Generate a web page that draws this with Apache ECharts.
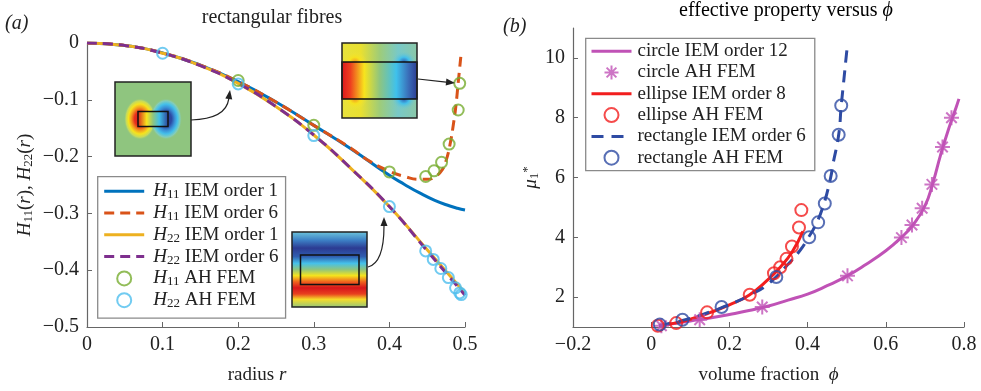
<!DOCTYPE html>
<html>
<head>
<meta charset="utf-8">
<script src="https://cdn.jsdelivr.net/npm/echarts@6/dist/echarts.min.js"></script>
<style>
  html, body { margin: 0; padding: 0; background: #fff; }
  #main { width: 981px; height: 391px; }
</style>
</head>
<body>
<div id="main"></div>
<script>
// ---- panel (a): rectangular fibres ----
var rH11o1 = [0, 0.05, 0.1, 0.15, 0.2, 0.25, 0.3, 0.35, 0.4, 0.42, 0.44, 0.46, 0.48, 0.49, 0.5];
var valH11o1 = [0, -0.0045, -0.0175, -0.039, -0.068, -0.104, -0.145, -0.187, -0.233, -0.249, -0.264, -0.277, -0.287, -0.291, -0.294];

var rH11o6 = [0, 0.05, 0.1, 0.15, 0.2, 0.25, 0.3, 0.35, 0.37, 0.4, 0.42, 0.44, 0.45, 0.46, 0.47, 0.475, 0.48, 0.485, 0.488, 0.491, 0.495];
var valH11o6 = [0, -0.0045, -0.0175, -0.039, -0.068, -0.104, -0.145, -0.186, -0.205, -0.226, -0.235, -0.24, -0.24, -0.236, -0.223, -0.207, -0.18, -0.14, -0.11, -0.07, -0.017];

var rH22 = [0, 0.05, 0.1, 0.15, 0.2, 0.25, 0.3, 0.35, 0.4, 0.45, 0.5];
var valH22o1 = [0, -0.0045, -0.018, -0.04, -0.071, -0.112, -0.162, -0.222, -0.288, -0.364, -0.44];
var valH22o6 = [0, -0.0045, -0.018, -0.04, -0.071, -0.112, -0.162, -0.222, -0.288, -0.366, -0.444];

var rFemH11 = [0.2, 0.3, 0.4, 0.448, 0.459, 0.469, 0.479, 0.491, 0.493];
var valFemH11 = [-0.066, -0.145, -0.227, -0.235, -0.225, -0.21, -0.178, -0.118, -0.071];
var rFemH22 = [0.1, 0.2, 0.3, 0.4, 0.448, 0.458, 0.468, 0.478, 0.4875, 0.493, 0.495];
var valFemH22 = [-0.018, -0.072, -0.163, -0.288, -0.366, -0.381, -0.397, -0.413, -0.431, -0.44, -0.443];

var ticksA_x = [0, 0.1, 0.2, 0.3, 0.4, 0.5];

// ---- panel (b): effective property versus phi ----
var phiCircle = [0.02, 0.05, 0.1, 0.15, 0.2, 0.25, 0.3, 0.35, 0.4, 0.45, 0.5, 0.55, 0.6, 0.64, 0.67, 0.7, 0.72, 0.74, 0.76, 0.78, 0.787];
var muCircle = [1.04, 1.1, 1.2, 1.3, 1.42, 1.55, 1.7, 1.9, 2.1, 2.38, 2.7, 3.1, 3.55, 4.0, 4.42, 5.05, 5.8, 6.75, 7.6, 8.35, 8.63];
var phiCircleFem = [0.026, 0.124, 0.284, 0.502, 0.64, 0.667, 0.693, 0.718, 0.745, 0.768];
var muCircleFem = [1.04, 1.24, 1.67, 2.71, 3.99, 4.41, 4.97, 5.77, 7.02, 8.0];

var phiEllipse = [0.02, 0.06, 0.1, 0.15, 0.2, 0.25, 0.3, 0.33, 0.36, 0.388];
var muEllipse = [1.04, 1.13, 1.26, 1.48, 1.74, 2.06, 2.6, 3.0, 3.5, 4.2];
var phiEllipseFem = [0.017, 0.064, 0.143, 0.252, 0.314, 0.33, 0.346, 0.36, 0.378, 0.384];
var muEllipseFem = [1.04, 1.13, 1.49, 2.08, 2.8, 3.0, 3.28, 3.69, 4.33, 4.91];

var phiRect = [0.02, 0.08, 0.15, 0.2, 0.25, 0.3, 0.35, 0.38, 0.4, 0.42, 0.44, 0.459, 0.465, 0.4795, 0.486, 0.493, 0.5, 0.503];
var muRect = [1.05, 1.22, 1.5, 1.75, 2.05, 2.45, 3.1, 3.55, 3.95, 4.4, 5.05, 6.0, 6.45, 7.43, 8.4, 9.3, 10.2, 10.5];
var phiRectFem = [0.022, 0.08, 0.18, 0.32, 0.404, 0.427, 0.444, 0.459, 0.4795, 0.486];
var muRectFem = [1.08, 1.24, 1.67, 2.67, 4.0, 4.5, 5.13, 6.05, 7.43, 8.41];

var ticksB_y = [2, 4, 6, 8, 10];

var FONT = 'Liberation Serif';
var zip = (xs, ys) => xs.map((x, i) => [x, ys[i]]);
var fmt = v => String(+v.toFixed(2)).replace('-', '\u2212');

var richBase = {
    t: { fontFamily: FONT, fontSize: 18, lineHeight: 20, color: '#222' },
    i: { fontFamily: FONT, fontSize: 18, lineHeight: 20, fontStyle: 'italic', color: '#222' },
    s: { fontFamily: FONT, fontSize: 12, lineHeight: 12, verticalAlign: 'bottom', color: '#222' },
    p: { fontFamily: FONT, fontSize: 13, lineHeight: 12, verticalAlign: 'top', color: '#222' }
};
function rich(size) {
    var r = JSON.parse(JSON.stringify(richBase));
    r.t.fontSize = size; r.i.fontSize = size;
    r.s.fontSize = Math.round(size * 0.68);
    return r;
}

var hollow = c => ({ color: 'rgba(0,0,0,0)', borderColor: c, borderWidth: 2 });
var starPath = 'path://M0,-10L0,10M-10,0L10,0M-7,-7L7,7M-7,7L7,-7';
var noSym = { color: 'rgba(0,0,0,0)', borderWidth: 0, opacity: 0 };

var chart = echarts.init(document.getElementById('main'), null, { renderer: 'canvas' });

function axisCommon() {
    return {
        type: 'value',
        splitLine: { show: false },
        axisLine: { show: true, onZero: false, lineStyle: { color: '#666', width: 1.2 } },
        axisTick: { show: true, inside: true, length: 5, lineStyle: { color: '#666' } },
        axisLabel: { fontFamily: FONT, fontSize: 20, color: '#222', formatter: fmt },
        nameTextStyle: { rich: rich(19) }
    };
}

// insets (field pictures) and arrows
function arrow(x0, y0, cx, cy, x1, y1) {
    var dx = x1 - cx, dy = y1 - cy, l = Math.sqrt(dx * dx + dy * dy);
    dx /= l; dy /= l;
    var bx = x1 - 9 * dx, by = y1 - 9 * dy;
    return [
        { type: 'bezierCurve', shape: { x1: x0, y1: y0, cpx1: cx, cpy1: cy, x2: bx, y2: by },
          style: { stroke: '#222', lineWidth: 1.2, fill: null }, z: 100 },
        { type: 'polygon', shape: { points: [[x1, y1], [bx - 3.5 * dy, by + 3.5 * dx], [bx + 3.5 * dy, by - 3.5 * dx]] },
          style: { fill: '#222' }, z: 100 }
    ];
}
var G = echarts.graphic;
var bgGreen = '#8fc57f';
function lobe(x, y, r, sy, stops) {
    return { type: 'circle', x: x, y: y, scaleY: sy, shape: { cx: 0, cy: 0, r: r },
             style: { fill: new G.RadialGradient(0.5, 0.5, 0.5, stops) }, z: 100 };
}
var redStops = [{ offset: 0, color: '#d2191d' }, { offset: 0.35, color: '#e8301e' }, { offset: 0.55, color: '#f39a1f' },
                { offset: 0.72, color: '#f6e31d' }, { offset: 0.88, color: '#c4da5e' }, { offset: 1, color: 'rgba(143,197,127,0)' }];
var blueStops = [{ offset: 0, color: '#2b3990' }, { offset: 0.35, color: '#2d4aa3' }, { offset: 0.55, color: '#3a8fd6' },
                 { offset: 0.72, color: '#45c0ea' }, { offset: 0.88, color: '#85cdb8' }, { offset: 1, color: 'rgba(143,197,127,0)' }];
var cornerRed = [{ offset: 0, color: '#f19a22' }, { offset: 0.45, color: '#f6e21f' }, { offset: 1, color: 'rgba(235,226,60,0)' }];
var cornerBlue = [{ offset: 0, color: '#2f5fb3' }, { offset: 0.45, color: '#45c0ea' }, { offset: 1, color: 'rgba(120,200,200,0)' }];

var graphics = [
    // inset 1
    { type: 'rect', shape: { x: 115, y: 82, width: 76, height: 74 }, style: { fill: bgGreen }, z: 100 },
    lobe(140, 119, 16, 1.3, redStops),
    lobe(166, 119, 16, 1.3, blueStops),
    { type: 'rect', shape: { x: 138, y: 111.5, width: 30, height: 15 },
      style: { fill: new G.LinearGradient(0, 0, 1, 0, [
          { offset: 0, color: '#d5171c' }, { offset: 0.3, color: '#f7e41d' }, { offset: 0.5, color: bgGreen },
          { offset: 0.7, color: '#40c0ea' }, { offset: 1, color: '#2c3a92' }]), stroke: '#111', lineWidth: 1.5 }, z: 101 },
    { type: 'rect', shape: { x: 115, y: 82, width: 76, height: 74 }, style: { fill: null, stroke: '#222', lineWidth: 1.5 }, z: 102 },

    // inset 2
    { type: 'rect', shape: { x: 342, y: 43, width: 75, height: 75 },
      style: { fill: new G.LinearGradient(0, 0, 1, 0, [
          { offset: 0, color: '#e8e23c' }, { offset: 0.25, color: '#e9e030' }, { offset: 0.5, color: '#9fcc78' },
          { offset: 0.75, color: '#78c9c8' }, { offset: 1, color: '#8ac7a8' }]) }, z: 100 },
    lobe(355, 62, 12, 0.9, cornerRed),
    lobe(355, 99, 12, 0.9, cornerRed),
    lobe(404, 62, 12, 0.9, cornerBlue),
    lobe(404, 99, 12, 0.9, cornerBlue),
    { type: 'rect', shape: { x: 342, y: 62, width: 75, height: 37 },
      style: { fill: new G.LinearGradient(0, 0, 1, 0, [
          { offset: 0, color: '#d9161c' }, { offset: 0.12, color: '#ee3f1f' }, { offset: 0.3, color: '#f8e41d' },
          { offset: 0.5, color: bgGreen }, { offset: 0.72, color: '#3fc1ec' }, { offset: 0.88, color: '#3a6db8' },
          { offset: 1, color: '#2b3990' }]), stroke: '#111', lineWidth: 1.5 }, z: 101 },
    { type: 'rect', shape: { x: 342, y: 43, width: 75, height: 75 }, style: { fill: null, stroke: '#222', lineWidth: 1.5 }, z: 102 },

    // inset 3
    { type: 'rect', shape: { x: 292, y: 232, width: 75, height: 75 },
      style: { fill: new G.LinearGradient(0, 0, 0, 1, [
          { offset: 0, color: '#70c9de' }, { offset: 0.12, color: '#3c7ec4' }, { offset: 0.22, color: '#2c3b92' },
          { offset: 0.33, color: '#2f5db0' }, { offset: 0.42, color: '#45c1ea' }, { offset: 0.5, color: bgGreen },
          { offset: 0.58, color: '#f5e41d' }, { offset: 0.66, color: '#f0641e' }, { offset: 0.74, color: '#d8161c' },
          { offset: 0.82, color: '#e8401e' }, { offset: 0.89, color: '#f6dc2a' }, { offset: 1, color: bgGreen }]),
        stroke: '#222', lineWidth: 1.5 }, z: 100 },
    { type: 'rect', shape: { x: 300.5, y: 255, width: 58.5, height: 29.5 }, style: { fill: null, stroke: '#111', lineWidth: 1.5 }, z: 101 },

    // panel labels and titles
    { type: 'text', x: 5, y: 14, style: { text: '(a)', font: 'italic 20px "Liberation Serif"', fill: '#222' }, z: 100 },
    { type: 'text', x: 503, y: 17, style: { text: '(b)', font: 'italic 20px "Liberation Serif"', fill: '#222' }, z: 100 },
    { type: 'text', x: 272, y: 8, style: { text: 'rectangular fibres', font: '20px "Liberation Serif"', fill: '#222', align: 'center' }, z: 100 },
    { type: 'text', x: 786, y: 1, style: { text: '{t|effective property versus }{i|\u03d5}', rich: rich(20), align: 'center' }, z: 100 }
].concat(arrow(191, 120, 226, 119, 230, 90))
 .concat(arrow(418, 79, 436, 81, 455, 83))
 .concat(arrow(368, 267, 384, 263, 384, 217));

var legA = ['H11 IEM order 1', 'H11 IEM order 6', 'H22 IEM order 1', 'H22 IEM order 6', 'H11 AH FEM', 'H22 AH FEM'];
var legB = ['circle IEM order 12', 'circle AH FEM', 'ellipse IEM order 8', 'ellipse AH FEM', 'rectangle IEM order 6', 'rectangle AH FEM'];
var legItems = names => names.map(n => /IEM/.test(n) ? { name: n, itemStyle: noSym } : { name: n });

var option = {
    animation: false,
    backgroundColor: '#fff',
    grid: [
        { left: 87, top: 43, right: 516, bottom: 64 },
        { left: 573, top: 28, right: 17, bottom: 64 }
    ],
    xAxis: [
        Object.assign(axisCommon(), {
            gridIndex: 0, min: 0, max: 0.5, interval: 0.1,
            name: '{t|radius }{i|r}', nameLocation: 'middle', nameGap: 38,
            nameTextStyle: { rich: rich(19), padding: [0, 38, 0, 0] }
        }),
        Object.assign(axisCommon(), {
            gridIndex: 1, min: -0.2, max: 0.8, interval: 0.2,
            name: '{t|volume fraction  }{i|\u03d5}', nameLocation: 'middle', nameGap: 38
        })
    ],
    yAxis: [
        Object.assign(axisCommon(), {
            gridIndex: 0, min: -0.5, max: 0, interval: 0.1,
            name: '{i|H}{s|11}{t|(}{i|r}{t|), }{i|H}{s|22}{t|(}{i|r}{t|)}', nameLocation: 'middle', nameGap: 52
        }),
        Object.assign(axisCommon(), {
            gridIndex: 1, min: 1, max: 11,
            name: '{i|\u03bc}{s|1}{p|*}', nameLocation: 'middle', nameGap: 24
        })
    ],
    legend: [
        {
            left: 97.7, top: 176.7, orient: 'vertical', align: 'left',
            selectedMode: false,
            data: legItems(legA),
            itemWidth: 40, itemHeight: 14, itemGap: 2.3,
            padding: [5, 7, 8, 5],
            borderColor: '#8a8a8a', borderWidth: 1.3, borderRadius: 0,
            lineStyle: { width: 3 },
            textStyle: { rich: rich(19), padding: [0, 0, 0, 4] },
            formatter: n => n.replace(/^H(\d\d)(.*)$/, '{i|H}{s|$1}{t|$2}')
        },
        {
            left: 585.7, top: 38.3, orient: 'vertical', align: 'left',
            selectedMode: false,
            data: legItems(legB),
            itemWidth: 40, itemHeight: 14, itemGap: 2.3,
            padding: [3.4, 9, 3.4, 4.3],
            borderColor: '#8a8a8a', borderWidth: 1.3, borderRadius: 0,
            lineStyle: { width: 3 },
            textStyle: { rich: rich(19), padding: [0, 0, 0, 1] },
            formatter: n => '{t|' + n + '}'
        }
    ],
    series: [
        { name: 'H11 IEM order 1', type: 'line', xAxisIndex: 0, yAxisIndex: 0, symbol: 'none', smooth: true,
          data: zip(rH11o1, valH11o1), lineStyle: { color: '#0072BD', width: 3 }, itemStyle: { color: '#0072BD' } },
        { name: 'H11 IEM order 6', type: 'line', xAxisIndex: 0, yAxisIndex: 0, symbol: 'none', smooth: true,
          data: zip(rH11o6, valH11o6), lineStyle: { color: '#D95319', width: 3, type: [10, 6] }, itemStyle: { color: '#D95319' } },
        { name: 'H22 IEM order 1', type: 'line', xAxisIndex: 0, yAxisIndex: 0, symbol: 'none', smooth: true,
          data: zip(rH22, valH22o1), lineStyle: { color: '#EDB120', width: 3 }, itemStyle: { color: '#EDB120' } },
        { name: 'H22 IEM order 6', type: 'line', xAxisIndex: 0, yAxisIndex: 0, symbol: 'none', smooth: true,
          data: zip(rH22, valH22o6), lineStyle: { color: '#7E2F8E', width: 3, type: [10, 6] }, itemStyle: { color: '#7E2F8E' } },
        { name: 'H11 AH FEM', type: 'scatter', xAxisIndex: 0, yAxisIndex: 0, symbol: 'circle', symbolSize: 11,
          data: zip(rFemH11, valFemH11), itemStyle: hollow('#77AC30'), z: 5 },
        { name: 'H22 AH FEM', type: 'scatter', xAxisIndex: 0, yAxisIndex: 0, symbol: 'circle', symbolSize: 11,
          data: zip(rFemH22, valFemH22), itemStyle: hollow('#4DBEEE'), z: 5 },

        { name: 'circle IEM order 12', type: 'line', xAxisIndex: 1, yAxisIndex: 1, symbol: 'none', smooth: true,
          data: zip(phiCircle, muCircle), lineStyle: { color: '#C052B6', width: 3 }, itemStyle: { color: '#C052B6' } },
        { name: 'circle AH FEM', type: 'scatter', xAxisIndex: 1, yAxisIndex: 1, symbol: starPath, symbolSize: 15,
          data: zip(phiCircleFem, muCircleFem), itemStyle: hollow('#C052B6'), z: 5 },
        { name: 'ellipse IEM order 8', type: 'line', xAxisIndex: 1, yAxisIndex: 1, symbol: 'none', smooth: true,
          data: zip(phiEllipse, muEllipse), lineStyle: { color: '#F21E1E', width: 3 }, itemStyle: { color: '#F21E1E' } },
        { name: 'ellipse AH FEM', type: 'scatter', xAxisIndex: 1, yAxisIndex: 1, symbol: 'circle', symbolSize: 12,
          data: zip(phiEllipseFem, muEllipseFem), itemStyle: hollow('#F21E1E'), z: 5 },
        { name: 'rectangle IEM order 6', type: 'line', xAxisIndex: 1, yAxisIndex: 1, symbol: 'none', smooth: true,
          data: zip(phiRect, muRect), lineStyle: { color: '#2E4BA3', width: 3, type: [12, 8] }, itemStyle: { color: '#2E4BA3' } },
        { name: 'rectangle AH FEM', type: 'scatter', xAxisIndex: 1, yAxisIndex: 1, symbol: 'circle', symbolSize: 12,
          data: zip(phiRectFem, muRectFem), itemStyle: hollow('#2E4BA3'), z: 5 }
    ],
    graphic: graphics
};

option.yAxis[1].axisTick.customValues = ticksB_y;
option.yAxis[1].axisLabel.customValues = ticksB_y;
option.xAxis[0].axisTick.customValues = ticksA_x;

chart.setOption(option);
</script>
</body>
</html>
